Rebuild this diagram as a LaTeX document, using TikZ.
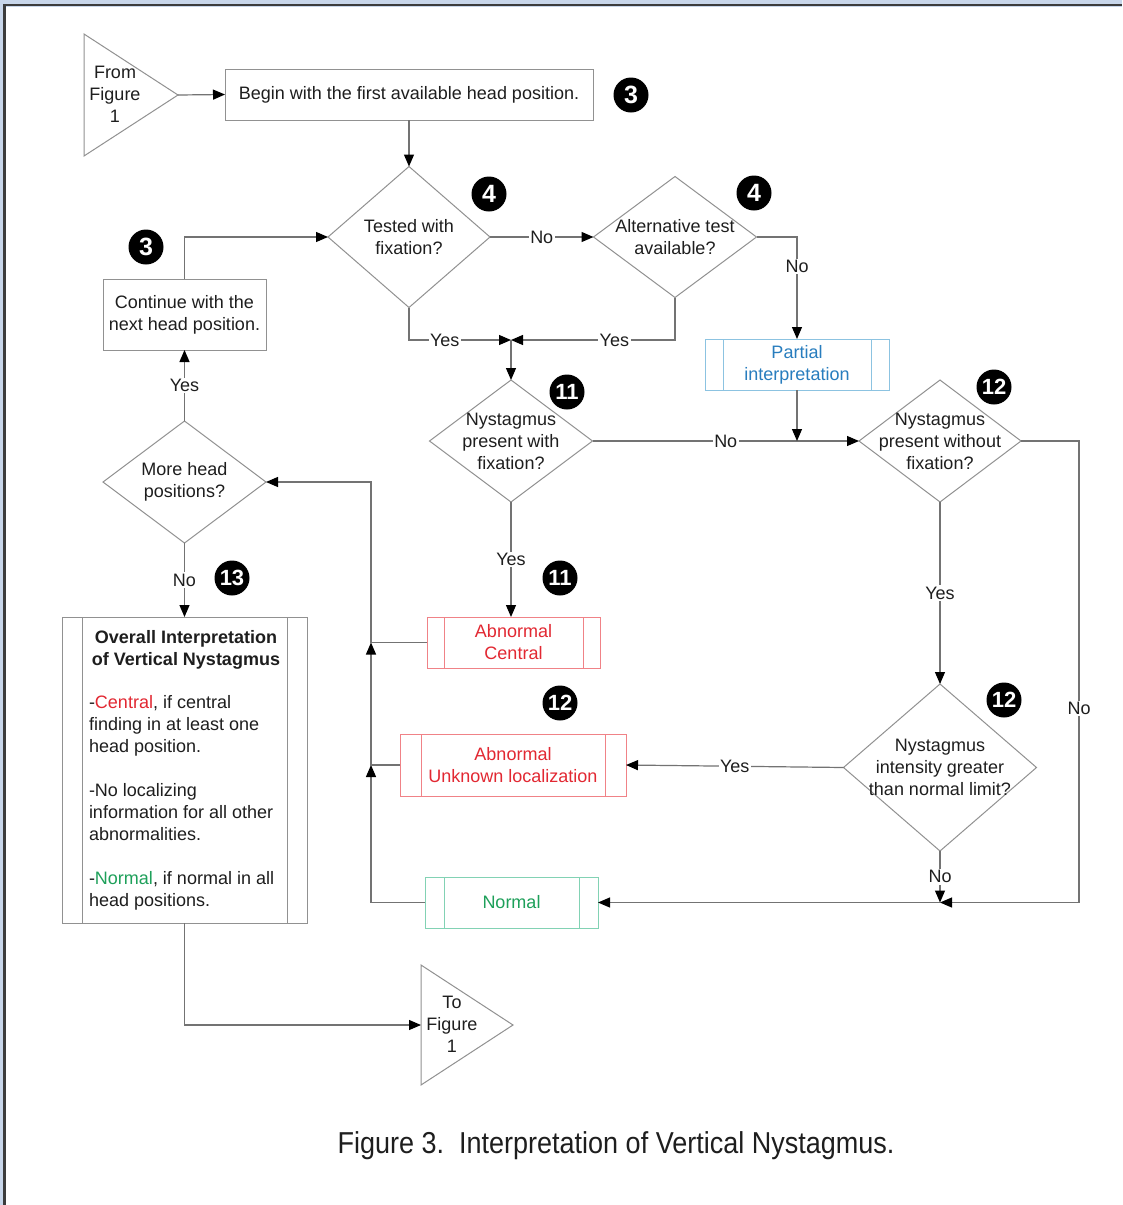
\documentclass[tikz,border=0pt]{standalone}
\usepackage{fontspec}
\setmainfont{Liberation Sans}
\usepackage{graphicx}
\usetikzlibrary{shapes.geometric,arrows.meta}
\definecolor{frameblue}{RGB}{200,214,234}
\definecolor{framedark}{RGB}{60,60,60}
\definecolor{shapegray}{RGB}{145,145,145}
\definecolor{linegray}{RGB}{115,115,115}
\definecolor{txt}{RGB}{30,30,30}
\definecolor{redT}{RGB}{226,40,50}
\definecolor{redB}{RGB}{240,130,135}
\definecolor{grnT}{RGB}{30,160,90}
\definecolor{grnB}{RGB}{130,210,180}
\definecolor{bluT}{RGB}{40,125,190}
\definecolor{bluB}{RGB}{140,195,225}
\newcommand{\myBodyFont}{\fontsize{18}{22}\selectfont}
\begin{document}
\begin{tikzpicture}[x=1pt,y=-1pt,
 every node/.style={inner sep=0pt,outer sep=0pt,text=txt,font=\myBodyFont},
 dia/.style={diamond,draw=shapegray,line width=1pt},
 box/.style={rectangle,draw=shapegray,line width=1pt,align=center},
 predef/.style n args={2}{rectangle,draw=#1,line width=1pt,align=center,
   path picture={\draw[#1,line width=1pt]
     ([xshift=#2]path picture bounding box.north west) -- ([xshift=#2]path picture bounding box.south west)
     ([xshift=-#2]path picture bounding box.north east) -- ([xshift=-#2]path picture bounding box.south east);}},
 dtext/.style={align=center},
 badge/.style={circle,fill=black,minimum size=35pt,text=white,font=\fontsize{25}{25}\selectfont\bfseries},
 badgetwo/.style={badge,font=\fontsize{22}{22}\selectfont\bfseries},
 lbl/.style={fill=white,inner sep=1.5pt},
 ln/.style={draw=linegray,line width=1.2pt},
 arr/.style={ln,-{Triangle[length=12pt,width=10pt,black]}},
 tri/.style={draw=shapegray,line width=1pt,line join=miter}
]
\useasboundingbox (0,0) rectangle (1122,1205);
% frame
\fill[frameblue] (0,0) rectangle (1122,1205);
\fill[white] (6,7) rectangle (1122,1205);
\draw[framedark,line width=2.5pt] (4.5,1205) -- (4.5,5) -- (1122,5);

% triangles (off-page connectors)
\draw[tri] (84,34) -- (178,95) -- (84,156) -- cycle;
\coordinate (fromtip) at (178,95);
\node[dtext] (fromt) at (115,94) {From\\Figure\\1};
\draw[tri] (421,965) -- (513,1025) -- (421,1085) -- cycle;
\coordinate (towest) at (421,1025);
\node[dtext] (tot) at (452,1024) {To\\Figure\\1};

% boxes
\node[box,minimum width=368pt,minimum height=51pt] (begin) at (409,94.5) {Begin with the first available head position.};
\node[box,minimum width=163pt,minimum height=71pt] (cont) at (184.5,314.5) {Continue with the\\next head position.};
\node[predef={bluB}{18pt},minimum width=184pt,minimum height=51pt,text=bluT] (part) at (797,364.5) {Partial\\interpretation};
\node[predef={redB}{17pt},minimum width=173pt,minimum height=51pt,text=redT] (cen) at (513.5,642.5) {Abnormal\\Central};
\node[predef={redB}{21pt},minimum width=226pt,minimum height=62pt,text=redT] (unk) at (513,765) {Abnormal\\Unknown localization};
\node[predef={grnB}{19pt},minimum width=173pt,minimum height=51pt,text=grnT] (norm) at (511.5,902.5) {Normal};
\node[predef={shapegray}{20pt},minimum width=245pt,minimum height=306pt] (ovr) at (184.5,770) {};
\node[dtext,font=\myBodyFont\bfseries] (ovrh) at (186,649.5) {Overall Interpretation\\of Vertical Nystagmus};
\node[align=left,anchor=west] (ovrb) at (89,802.5) {-{\color{redT}Central}, if central\\finding in at least one\\head position.\\[22pt]-No localizing\\information for all other\\abnormalities.\\[22pt]-{\color{grnT}Normal}, if normal in all\\head positions.};

% diamonds
\node[dia,minimum width=162pt,minimum height=141pt] (tst) at (409,237) {};
\node[dtext] (tstt) at (tst) {Tested with\\fixation?};
\node[dia,minimum width=163pt,minimum height=121pt] (alt) at (675,237) {};
\node[dtext] (altt) at (alt) {Alternative test\\available?};
\node[dia,minimum width=163pt,minimum height=122pt] (pw) at (511,441) {};
\node[dtext] (pwt) at (pw) {Nystagmus\\present with\\fixation?};
\node[dia,minimum width=162pt,minimum height=122pt] (wo) at (940,441) {};
\node[dtext] (wot) at (wo) {Nystagmus\\present without\\fixation?};
\node[dia,minimum width=193pt,minimum height=167pt] (int) at (940,767.5) {};
\node[dtext] (intt) at (int) {Nystagmus\\intensity greater\\than normal limit?};
\node[dia,minimum width=163pt,minimum height=122pt] (more) at (184.5,482) {};
\node[dtext] (moret) at (more) {More head\\positions?};

% junction coordinates
\coordinate (j1) at (511,340);
\coordinate (j2) at (797,441);
\coordinate (j3) at (940,902.5);
\coordinate (rc) at (1079,902.5);
\coordinate (r1) at (371,902.5);
\coordinate (j5) at (371,765);
\coordinate (j4) at (371,642.5);
\coordinate (r4) at (371,482);

% connectors
\draw[arr] (fromtip) -- (begin.west);
\draw[arr] (begin.south) -- (tst.north);
\draw[arr] (tst.east) -- node[lbl]{No} (alt.west);
\draw[arr] (alt.east) -- (alt.east -| part.north) -- node[lbl,pos=0.29]{No} (part.north);
\draw[arr] (tst.south) -- (tst.south |- j1) -- node[lbl,pos=0.35]{Yes} (j1);
\draw[arr] (alt.south) -- (alt.south |- j1) -- node[lbl,pos=0.37]{Yes} (j1);
\draw[arr] (j1) -- (pw.north);
\draw[arr] (pw.east) -- node[lbl]{No} (wo.west);
\draw[arr] (part.south) -- (j2);
\draw[arr] (pw.south) -- node[lbl]{Yes} (pw.south |- cen.north);
\draw[arr] (wo.south) -- node[lbl]{Yes} (int.north);
\draw[arr] (wo.east) -| node[lbl,pos=0.79]{No} (rc) -- (j3);
\draw[arr] (int.south) -- node[lbl]{No} (j3);
\draw[arr] (j3) -- (norm.east);
\draw[arr] (int.west) -- node[lbl]{Yes} (unk.east);
\draw[arr] (norm.west) -- (r1) -- (j5);
\draw[arr] (unk.west) -- (j5) -- (j4);
\draw[arr] (cen.west) -- (j4) -- (r4) -- (more.east);
\draw[arr] (cont.north) |- (tst.west);
\draw[arr] (more.north) -- node[lbl]{Yes} (cont.south);
\draw[arr] (more.south) -- node[lbl]{No} (ovr.north);
\draw[arr] (ovr.south) |- (towest);

% badges
\node[badge] (b1) at (631,95) {3};
\node[badge] (b2) at (489,194) {4};
\node[badge] (b3) at (754,193) {4};
\node[badge] (b4) at (146,247) {3};
\node[badgetwo] (b5) at (567,392) {11};
\node[badgetwo] (b6) at (994,387) {12};
\node[badgetwo] (b7) at (560,578) {11};
\node[badgetwo] (b8) at (560,703) {12};
\node[badgetwo] (b9) at (1004,700) {12};
\node[badgetwo] (b10) at (232,578) {13};

% caption
\node (cap) at (616,1146) {\fontsize{27}{32}\selectfont\scalebox{1}[1.12]{Figure 3.\ \ Interpretation of Vertical Nystagmus.}};
\end{tikzpicture}
\end{document}
